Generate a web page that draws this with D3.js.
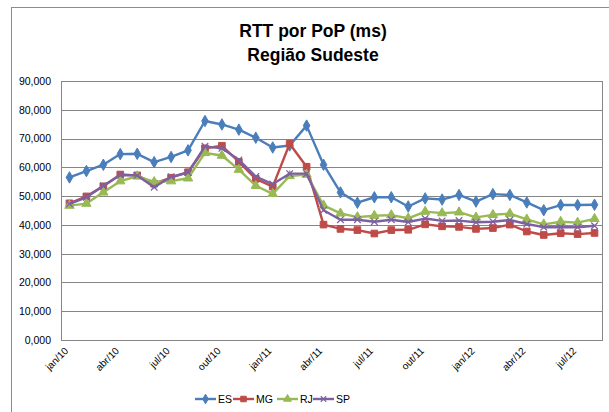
<!DOCTYPE html>
<html>
<head>
<meta charset="utf-8">
<script src="https://cdn.jsdelivr.net/npm/d3@7"></script>
<style>
  html, body { margin: 0; padding: 0; background: #fff; }
  svg { display: block; }
</style>
</head>
<body>
<svg id="chart" width="609" height="412"></svg>
<script>
const months = ["jan/10","fev/10","mar/10","abr/10","mai/10","jun/10","jul/10","ago/10","set/10","out/10","nov/10","dez/10",
                "jan/11","fev/11","mar/11","abr/11","mai/11","jun/11","jul/11","ago/11","set/11","out/11","nov/11","dez/11",
                "jan/12","fev/12","mar/12","abr/12","mai/12","jun/12","jul/12","ago/12"];
const shownLabels = ["jan/10","abr/10","jul/10","out/10","jan/11","abr/11","jul/11","out/11","jan/12","abr/12","jul/12"];
const yTicks = [0,10,20,30,40,50,60,70,80,90];
const seriesNames = ["ES","MG","RJ","SP"];
const esValues = [56.5,58.7,60.9,64.6,64.7,61.8,63.6,65.9,76.1,74.9,73.1,70.3,66.9,67.6,74.5,60.9,51.3,47.7,49.6,49.6,46.4,49.2,48.8,50.4,48.1,50.7,50.4,47.8,45.1,46.9,46.9,47.0];
const mgValues = [47.5,49.9,53.4,57.5,57.2,54.3,56.4,58.3,66.6,67.5,61.9,56.0,53.3,68.2,60.2,40.1,38.6,38.2,37.0,38.2,38.3,40.2,39.5,39.3,38.6,38.9,40.1,37.7,36.5,37.1,36.8,37.2];
const rjValues = [46.7,47.4,51.3,55.2,56.9,54.9,55.2,56.2,65.0,64.1,59.2,53.6,50.8,57.0,57.5,46.8,44.0,42.7,43.2,43.4,42.3,44.6,44.1,44.4,42.6,43.5,43.9,41.9,40.2,41.1,40.8,42.1];
const spValues = [47.3,49.6,53.6,57.3,57.2,53.1,56.7,58.2,67.3,66.6,62.6,56.8,54.2,57.8,57.8,45.1,41.8,41.8,41.1,41.8,41.0,42.2,41.4,41.5,40.9,41.1,41.7,40.3,39.2,39.2,39.2,39.7];

const colors = {ES:"#4A7EBB", MG:"#BE4B48", RJ:"#98B954", SP:"#7D60A0"};
const symbols = {ES:d3.symbolDiamond, MG:d3.symbolSquare, RJ:d3.symbolTriangle, SP:d3.symbolTimes};
const symSize = {ES:38, MG:44, RJ:38, SP:30};
const series = [
  {name:"ES", values:esValues},
  {name:"MG", values:mgValues},
  {name:"RJ", values:rjValues},
  {name:"SP", values:spValues}
];

const svg = d3.select("#chart");
const font = "'Liberation Sans', Arial, sans-serif";
const m = {left:61, right:603, top:81, bottom:340};

// outer frame
svg.append("rect").attr("x",11.5).attr("y",7.5).attr("width",700).attr("height",500)
  .attr("fill","#fff").attr("stroke","#8c8c8c").attr("stroke-width",1);

// titles
svg.append("text").attr("x",313).attr("y",36.5).attr("text-anchor","middle")
  .attr("font-family",font).attr("font-weight","bold").attr("font-size",17.5)
  .attr("fill","#000").text("RTT por PoP (ms)");
svg.append("text").attr("x",313).attr("y",61).attr("text-anchor","middle")
  .attr("font-family",font).attr("font-weight","bold").attr("font-size",17.5)
  .attr("fill","#000").text("Região Sudeste");

const x = d3.scaleBand().domain(months).range([m.left, m.right]);
const y = d3.scaleLinear().domain([0,90]).range([m.bottom, m.top]);
const loc = d3.formatLocale({decimal:",", thousands:".", grouping:[3], currency:["R$",""]});
const fmt = loc.format(".3f");

// gridlines
svg.append("g").selectAll("line").data(yTicks).join("line")
  .attr("x1",m.left).attr("x2",m.right)
  .attr("y1",d=>Math.round(y(d))+0.5).attr("y2",d=>Math.round(y(d))+0.5)
  .attr("stroke","#868686").attr("stroke-width",1);

// plot border
svg.append("rect").attr("x",m.left+0.5).attr("y",Math.round(y(90))+0.5)
  .attr("width",m.right-m.left-1).attr("height",Math.round(y(0))-Math.round(y(90)))
  .attr("fill","none").attr("stroke","#868686");

// y axis labels
const yAxis = d3.axisLeft(y).tickValues(yTicks).tickFormat(fmt).tickSize(0).tickPadding(10);
const gy = svg.append("g").attr("transform",`translate(${m.left},0)`).call(yAxis);
gy.select(".domain").remove();
gy.selectAll("text").attr("font-family",font).attr("font-size",10.5).attr("fill","#000");

// x axis labels, laid along 45-degree paths
const defs = svg.append("defs");
const gx = svg.append("g");
shownLabels.forEach((lbl,k)=>{
  const ex = x(lbl) + x.bandwidth()/2 - 3;
  const ey = m.bottom + 9;
  const id = "xlp" + k;
  defs.append("path").attr("id",id)
    .attr("d",`M${ex-60},${ey+60} L${ex},${ey}`);
  gx.append("text").attr("font-family",font).attr("font-size",10).attr("fill","#000")
    .attr("dy","0.35em")
    .append("textPath").attr("href","#"+id).attr("startOffset","100%")
    .attr("text-anchor","end").text(lbl);
});

// lines and markers
const line = d3.line().x((d,i)=>x(months[i])+x.bandwidth()/2).y(d=>y(d));
series.forEach(s=>{
  const g = svg.append("g");
  g.append("path").datum(s.values).attr("d",line).attr("fill","none")
    .attr("stroke",colors[s.name]).attr("stroke-width",2.4).attr("stroke-linejoin","round");
  const sym = d3.symbol().type(symbols[s.name]).size(symSize[s.name]);
  g.selectAll("path.mk").data(s.values).join("path").attr("class","mk")
    .attr("transform",(d,i)=>`translate(${x(months[i])+x.bandwidth()/2},${y(d)})`)
    .attr("d",sym())
    .attr("fill", s.name==="SP" ? "none" : colors[s.name])
    .attr("stroke", colors[s.name])
    .attr("stroke-width", s.name==="SP" ? 1.2 : 1);
});

// legend
const legendX = {ES:195, MG:233, RJ:277, SP:313};
const legY = 399;
seriesNames.forEach(n=>{
  const lx = legendX[n];
  svg.append("line").attr("x1",lx).attr("x2",lx+21).attr("y1",legY).attr("y2",legY)
    .attr("stroke",colors[n]).attr("stroke-width",2.4);
  const sym = d3.symbol().type(symbols[n]).size(symSize[n]*0.7);
  svg.append("path").attr("transform",`translate(${lx+10.5},${legY})`).attr("d",sym())
    .attr("fill", n==="SP" ? "none" : colors[n]).attr("stroke",colors[n])
    .attr("stroke-width", n==="SP" ? 1.2 : 1);
  svg.append("text").attr("x",lx+23).attr("y",legY+3.8).attr("font-family",font)
    .attr("font-size",10.5).attr("fill","#000").text(n);
});
</script>
</body>
</html>
